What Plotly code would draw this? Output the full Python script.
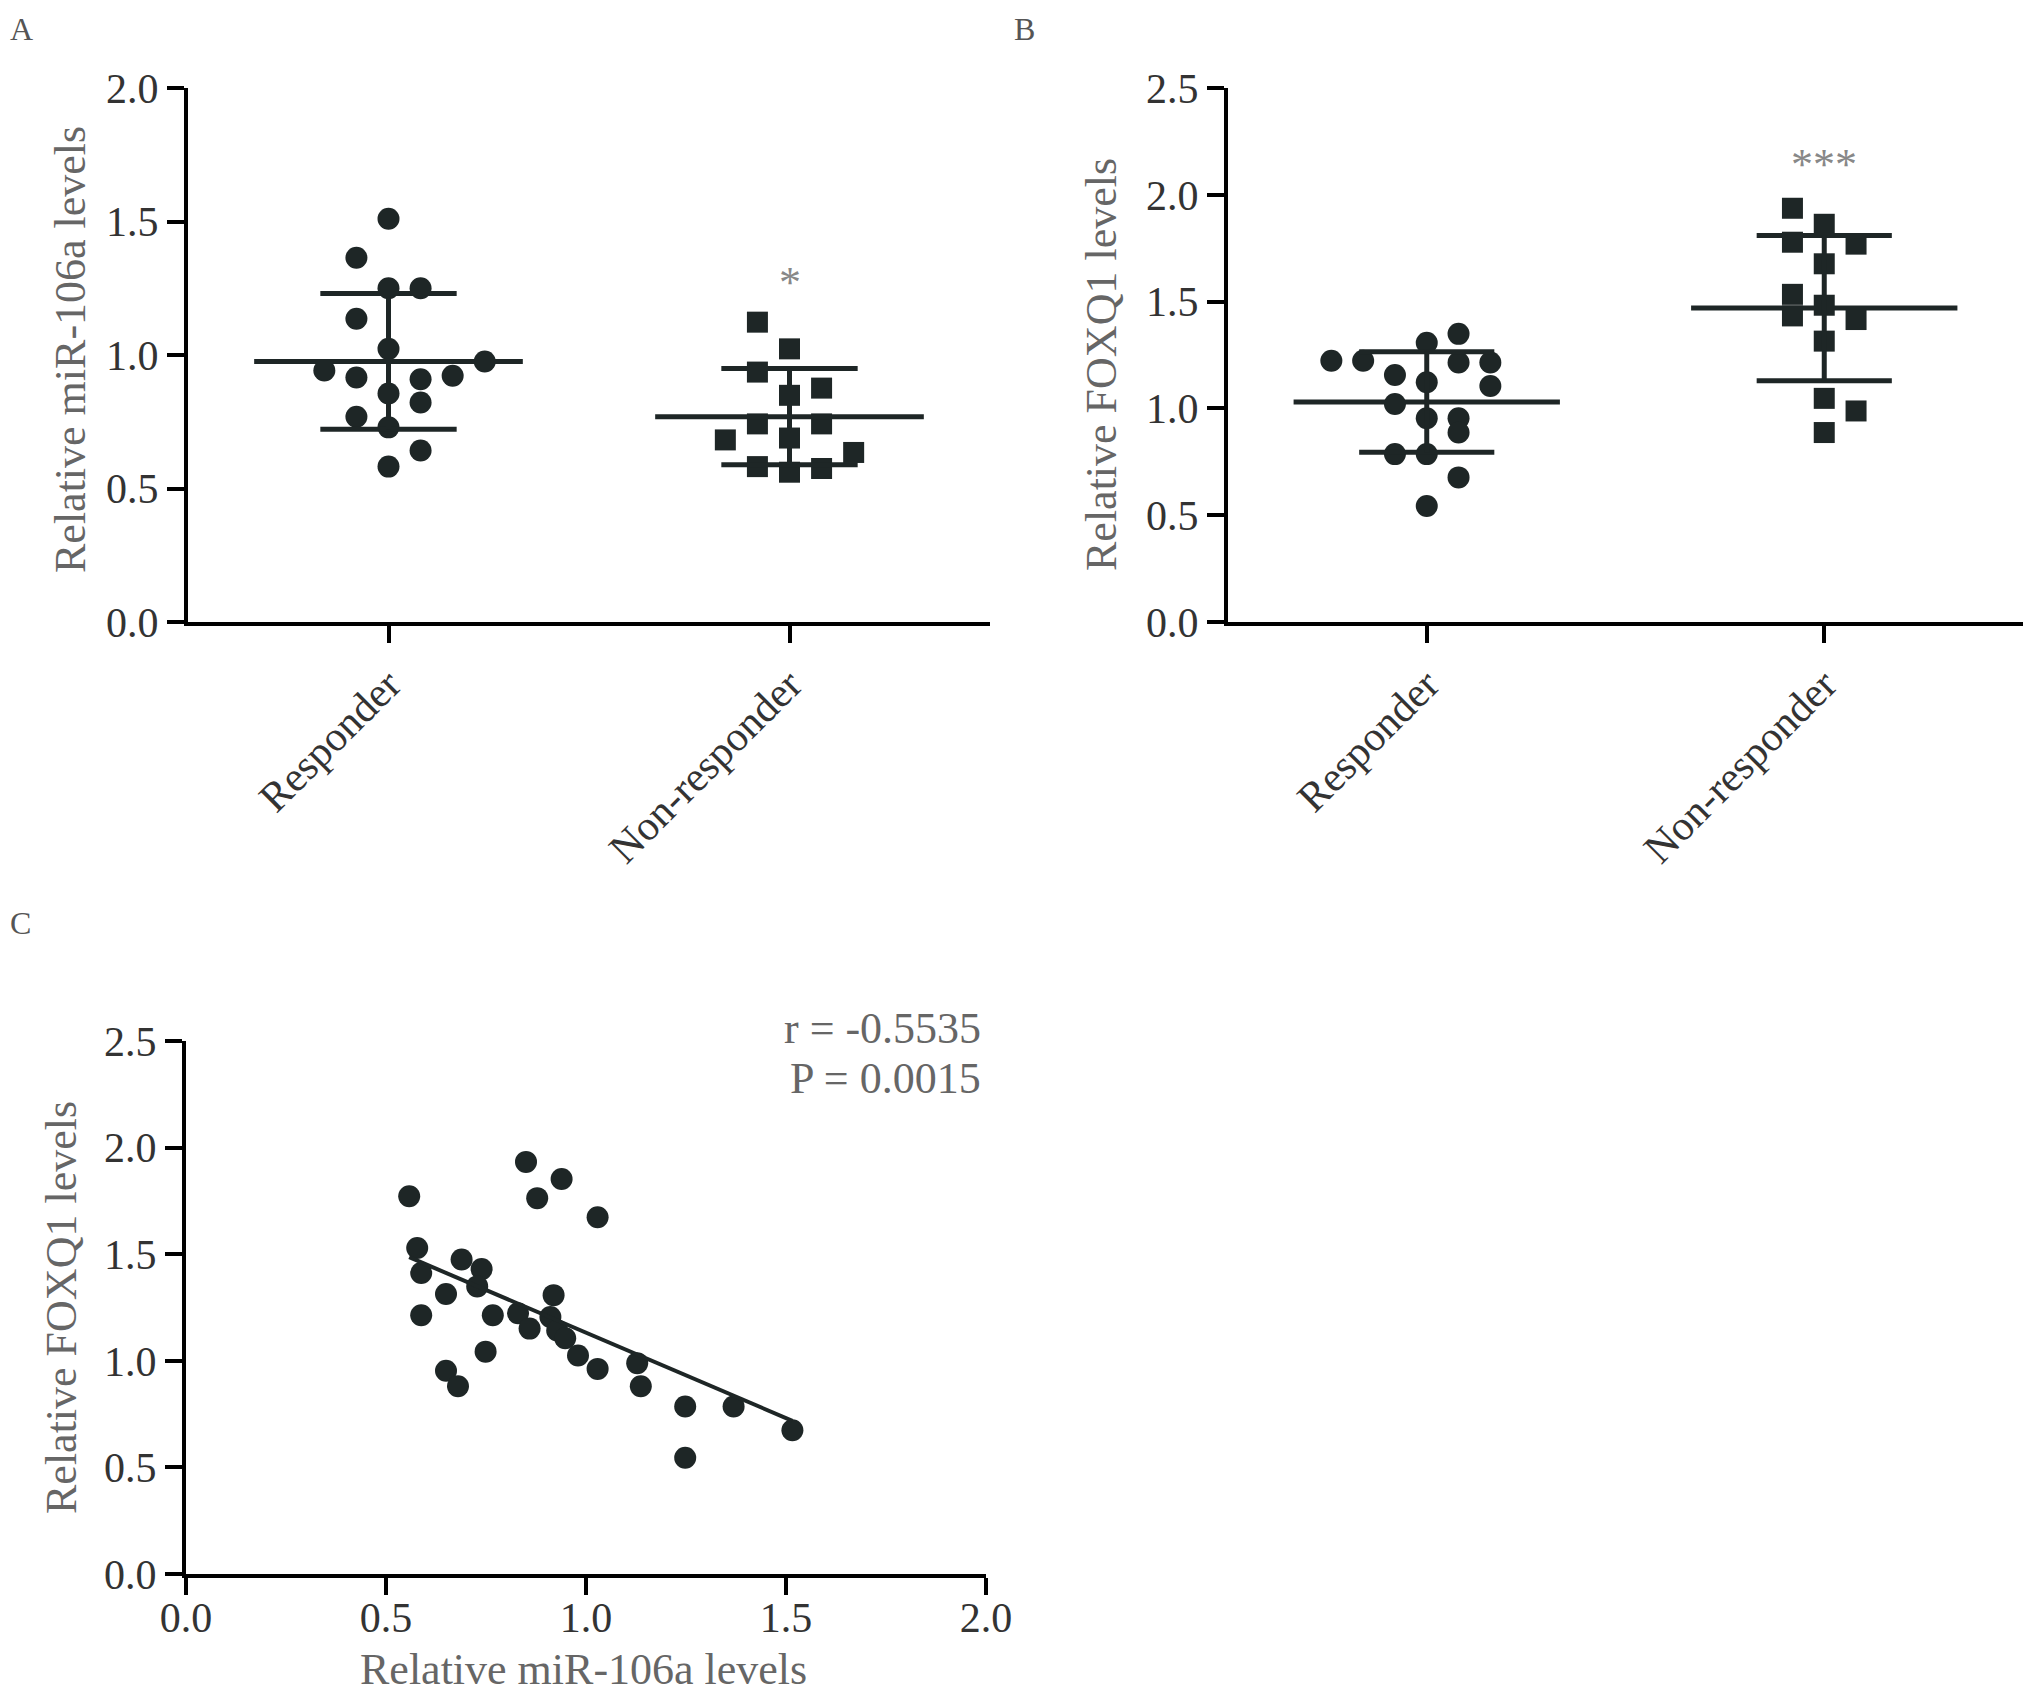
import plotly.graph_objects as go
import numpy as np

# ---------------- data ----------------
categories = ["Responder", "Non-responder"]

# Panel A: relative miR-106a levels
a_resp = [1.51, 1.364, 1.25, 1.25, 1.136, 1.023, 0.976, 0.942, 0.916, 0.909, 0.922, 0.856, 0.822, 0.769, 0.729, 0.642, 0.582]
a_resp_slot = [0, -1, 0, 1, -1, 0, 3, -2, -1, 1, 2, 0, 1, -1, 0, 1, 0]
a_nonr = [1.123, 1.023, 0.936, 0.876, 0.849, 0.742, 0.742, 0.682, 0.689, 0.635, 0.582, 0.561, 0.575]
a_nonr_slot = [-1, 0, -1, 1, 0, -1, 1, -2, 0, 2, -1, 0, 1]
a_mean = [0.976, 0.769]
a_sd = [0.254, 0.18]

# Panel B: relative FOXQ1 levels
b_resp = [1.223, 1.223, 1.156, 1.307, 1.349, 1.215, 1.215, 1.122, 1.105, 1.021, 0.954, 0.954, 0.887, 0.786, 0.786, 0.677, 0.543]
b_resp_slot = [-3, -2, -1, 0, 1, 1, 2, 0, 2, -1, 0, 1, 1, -1, 0, 1, 0]
b_nonr = [1.937, 1.862, 1.778, 1.769, 1.677, 1.534, 1.483, 1.433, 1.416, 1.315, 1.047, 0.988, 0.887]
b_nonr_slot = [-1, 0, -1, 1, 0, -1, 0, -1, 1, 0, 0, 1, 0]
b_mean = [1.03, 1.47]
b_sd = [0.235, 0.34]

# Panel C: correlation
c_mir = [0.558, 0.578, 0.588, 0.588, 0.650, 0.650, 0.680, 0.689, 0.739, 0.728, 0.749, 0.767, 0.830, 0.850,
         0.878, 0.859, 0.939, 0.919, 0.911, 0.928, 0.948, 0.980, 1.029, 1.029, 1.128, 1.137, 1.248, 1.248,
         1.369, 1.516]
c_foxq1 = [1.772, 1.529, 1.412, 1.214, 1.313, 0.953, 0.881, 1.475, 1.430, 1.349, 1.043, 1.214, 1.223, 1.933,
           1.763, 1.151, 1.853, 1.308, 1.205, 1.142, 1.106, 1.025, 1.673, 0.962, 0.989, 0.881, 0.786, 0.545,
           0.786, 0.674]
stats_text = ["r = -0.5535", "P = 0.0015"]
sig_a = "*"
sig_b = "***"

# ---------------- style ----------------
PAGE_W, PAGE_H = 2031, 1704
BODY = 8                      # default browser body margin
W, H = PAGE_W - 2 * BODY, PAGE_H - 2 * BODY
FONT = "Liberation Serif"
MK = "#1e2626"
TICKC = "#333333"
TITC = "#666666"
SLOT = 0.08
MEANW = 0.335
CAPW = 0.17
LW = 5


def px_x(p):
    return (p - BODY) / W


def px_y(p):
    return 1 - (p - BODY) / H


fig = go.Figure()


def add_group_panel(xa, ya, groups, slots, symbols, means, sds):
    for gi, (vals, sl, sym) in enumerate(zip(groups, slots, symbols)):
        xs = [gi + s * SLOT for s in sl]
        fig.add_trace(go.Scatter(x=xs, y=vals, mode="markers", xaxis=xa, yaxis=ya,
                                 marker=dict(symbol=sym, size=22 if sym == "circle" else 21, color=MK,
                                             line=dict(width=0)),
                                 showlegend=False, hoverinfo="skip"))
    lx, ly = [], []
    for gi, (m, s) in enumerate(zip(means, sds)):
        lx += [gi - MEANW, gi + MEANW, None, gi - CAPW, gi + CAPW, None, gi - CAPW, gi + CAPW, None, gi, gi, None]
        ly += [m, m, None, m + s, m + s, None, m - s, m - s, None, m - s, m + s, None]
    fig.add_trace(go.Scatter(x=lx, y=ly, mode="lines", xaxis=xa, yaxis=ya,
                             line=dict(color=MK, width=LW), showlegend=False, hoverinfo="skip"))


add_group_panel("x", "y", [a_resp, a_nonr], [a_resp_slot, a_nonr_slot], ["circle", "square"], a_mean, a_sd)
add_group_panel("x2", "y2", [b_resp, b_nonr], [b_resp_slot, b_nonr_slot], ["circle", "square"], b_mean, b_sd)

# Panel C scatter + regression
fig.add_trace(go.Scatter(x=c_mir, y=c_foxq1, mode="markers", xaxis="x3", yaxis="y3",
                         marker=dict(symbol="circle", size=22, color=MK, line=dict(width=0)),
                         showlegend=False, hoverinfo="skip"))
slope, icpt = np.polyfit(c_mir, c_foxq1, 1)
fx = [min(c_mir), max(c_mir)]
fy = [slope * v + icpt for v in fx]
fig.add_trace(go.Scatter(x=fx, y=fy, mode="lines", xaxis="x3", yaxis="y3",
                         line=dict(color=MK, width=4), showlegend=False, hoverinfo="skip"))

axis_common = dict(showline=True, linecolor="black", linewidth=4, ticks="outside", ticklen=17,
                   tickwidth=4, tickcolor="black", showgrid=False, zeroline=False, automargin=False,
                   tickfont=dict(family=FONT, size=42, color=TICKC))

ydomA = [px_y(622), px_y(88)]
ydomC = [px_y(1574), px_y(1041)]

fig.update_layout(
    template="none",
    width=W, height=H, margin=dict(l=0, r=0, t=0, b=0, pad=0),
    paper_bgcolor="white", plot_bgcolor="white", showlegend=False,
    xaxis=dict(domain=[px_x(188), px_x(990)], range=[-0.5, 1.5], tickvals=[0, 1], ticktext=categories,
               tickangle=-45, anchor="y", **axis_common),
    yaxis=dict(domain=ydomA, range=[0, 2.0], dtick=0.5, tickformat=".1f", anchor="x", **axis_common),
    xaxis2=dict(domain=[px_x(1228), 1.0], range=[-0.5, 1.5], tickvals=[0, 1], ticktext=categories,
                tickangle=-45, anchor="y2", **axis_common),
    yaxis2=dict(domain=ydomA, range=[0, 2.5], dtick=0.5, tickformat=".1f", anchor="x2", **axis_common),
    xaxis3=dict(domain=[px_x(186), px_x(986)], range=[0, 2.0], dtick=0.5, tickformat=".1f", anchor="y3",
                ticklabelstandoff=-13, **axis_common),
    yaxis3=dict(domain=ydomC, range=[0, 2.5], dtick=0.5, tickformat=".1f", anchor="x3", **axis_common),
)

ann = []
tfont = dict(family=FONT, size=44, color=TITC)
# axis titles
ann.append(dict(text="Relative miR-106a levels", xref="paper", yref="paper", x=px_x(71), y=px_y(350),
                textangle=-90, showarrow=False, font=tfont, xanchor="center", yanchor="middle"))
ann.append(dict(text="Relative FOXQ1 levels", xref="paper", yref="paper", x=px_x(1101), y=px_y(365),
                textangle=-90, showarrow=False, font=tfont, xanchor="center", yanchor="middle"))
ann.append(dict(text="Relative FOXQ1 levels", xref="paper", yref="paper", x=px_x(61), y=px_y(1308),
                textangle=-90, showarrow=False, font=tfont, xanchor="center", yanchor="middle"))
ann.append(dict(text="Relative miR-106a levels", xref="paper", yref="paper", x=px_x(583), y=0,
                showarrow=False, font=tfont, xanchor="center", yanchor="bottom"))
# panel letters
for letter, (lx, ly) in zip(["A", "B", "C"], [(8, 9), (1012, 9), (8, 903)]):
    ann.append(dict(text=letter, xref="paper", yref="paper", x=px_x(lx), y=px_y(ly), showarrow=False,
                    font=dict(family=FONT, size=32, color="#555555"), xanchor="left", yanchor="top"))
# significance
ann.append(dict(text=sig_a, xref="x", yref="y", x=1, y=1.27, showarrow=False,
                font=dict(family=FONT, size=44, color="#888888"), xanchor="center", yanchor="middle"))
ann.append(dict(text=sig_b, xref="x2", yref="y2", x=1, y=2.14, showarrow=False,
                font=dict(family=FONT, size=44, color="#888888"), xanchor="center", yanchor="middle"))
# stats
for i, t in enumerate(stats_text):
    ann.append(dict(text=t, xref="paper", yref="paper", x=px_x(983), y=px_y(1028 + i * 50), showarrow=False,
                    font=dict(family=FONT, size=44, color=TITC), xanchor="right", yanchor="middle"))

fig.update_layout(annotations=ann)
fig.write_html("out.html")
